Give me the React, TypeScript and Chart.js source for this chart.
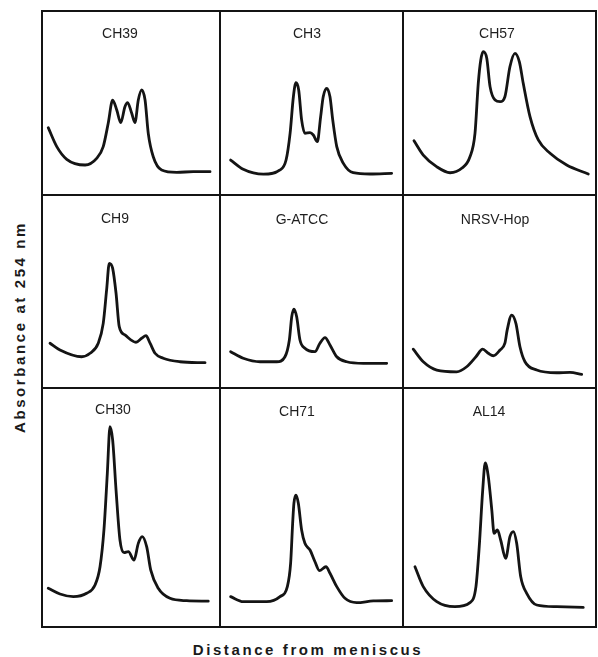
import React, { useEffect, useRef } from "react";
import Chart from "chart.js/auto";

// ---- Data (distance from meniscus in relative units, absorbance in relative units) ----
const panelNames = ["CH39", "CH3", "CH57", "CH9", "G-ATCC", "NRSV-Hop", "CH30", "CH71", "AL14"];

const ch39Distance = [3.5, 8.3, 13.9, 24.2, 30.7, 34.4, 37.2, 39.7, 42.0, 44.2, 46.6, 48.1, 50.4, 52.2, 54.1, 56.0, 57.9, 59.7, 62.5, 67.2, 75.7, 85.0, 94.4];
const ch39Absorbance = [36.6, 26.3, 19.4, 16.3, 19.9, 26.3, 39.0, 51.6, 46.2, 39.3, 48.0, 50.2, 44.4, 39.3, 51.6, 57.1, 51.6, 33.5, 20.8, 13.6, 12.3, 12.7, 12.7];

const ch3Distance = [5.8, 12.7, 23.7, 32.8, 36.1, 38.3, 40.1, 41.5, 43.0, 44.6, 46.4, 49.2, 51.0, 53.2, 55.0, 56.4, 58.3, 60.1, 61.6, 63.8, 67.4, 72.8, 82.0, 93.8];
const ch3Absorbance = [19.0, 14.0, 11.3, 13.6, 19.0, 33.5, 53.4, 61.0, 57.1, 40.8, 33.5, 33.9, 32.6, 29.0, 42.6, 53.4, 58.0, 53.4, 40.8, 26.3, 17.2, 12.1, 11.4, 11.8];

const ch57Distance = [5.7, 10.5, 17.4, 24.4, 30.4, 34.7, 37.3, 39.0, 40.3, 41.6, 43.4, 45.1, 47.7, 50.3, 52.8, 55.4, 58.0, 60.3, 62.3, 65.8, 70.1, 76.2, 84.8, 96.0];
const ch57Absorbance = [29.5, 21.7, 15.4, 12.1, 14.5, 20.8, 33.5, 60.7, 73.4, 77.9, 74.3, 58.9, 51.6, 50.7, 53.4, 69.7, 77.0, 72.4, 60.7, 42.6, 29.9, 22.7, 16.3, 11.4];

const ch9Distance = [4.5, 10.1, 22.3, 27.0, 31.6, 34.4, 36.3, 37.8, 39.7, 41.6, 43.4, 46.6, 52.8, 56.0, 58.4, 60.7, 63.5, 68.1, 77.5, 91.6];
const ch9Absorbance = [23.2, 19.7, 16.2, 18.0, 23.2, 33.5, 50.8, 64.6, 62.0, 49.1, 31.8, 27.5, 23.7, 25.8, 27.1, 23.2, 18.0, 15.4, 13.6, 13.1];

const gAtccDistance = [5.8, 12.7, 21.9, 31.0, 35.5, 37.9, 39.2, 40.4, 41.9, 43.7, 46.4, 51.9, 54.6, 57.4, 60.1, 63.8, 69.2, 78.3, 91.1];
const gAtccAbsorbance = [18.8, 15.4, 13.6, 13.6, 16.2, 24.9, 36.9, 40.9, 36.9, 24.9, 20.6, 18.8, 23.2, 26.1, 22.3, 16.2, 13.6, 12.8, 12.8];

const nrsvHopDistance = [5.3, 10.5, 17.5, 27.8, 33.0, 37.8, 41.3, 44.2, 46.8, 50.3, 52.8, 54.0, 56.3, 58.5, 60.6, 63.2, 69.3, 79.6, 86.5, 92.6];
const nrsvHopAbsorbance = [20.1, 13.6, 9.3, 8.4, 11.0, 16.2, 20.1, 18.0, 16.7, 19.7, 23.2, 30.1, 37.8, 33.5, 21.4, 13.6, 9.3, 7.9, 8.1, 7.1];

const ch30Distance = [3.5, 10.1, 17.6, 25.1, 29.8, 32.6, 34.8, 36.7, 38.2, 39.7, 41.6, 43.8, 46.1, 48.5, 51.7, 54.1, 56.3, 58.8, 61.1, 65.3, 71.9, 81.3, 93.4];
const ch30Absorbance = [16.2, 13.8, 12.7, 14.1, 17.6, 25.2, 40.6, 64.3, 83.8, 78.2, 57.3, 36.4, 31.1, 31.5, 28.0, 35.0, 37.8, 33.6, 23.8, 16.2, 12.0, 11.0, 10.8];

const ch71Distance = [5.8, 12.7, 25.5, 32.8, 36.8, 38.6, 39.7, 40.4, 41.5, 42.8, 44.6, 46.4, 49.2, 51.9, 54.3, 57.9, 60.1, 63.8, 68.3, 74.7, 83.8, 93.8];
const ch71Absorbance = [12.7, 10.6, 10.6, 12.7, 16.9, 26.7, 43.4, 51.8, 55.2, 51.8, 40.6, 35.0, 32.2, 27.3, 23.6, 25.2, 22.5, 16.9, 12.0, 10.2, 10.9, 11.0];

const al14Distance = [6.2, 10.5, 17.5, 26.9, 34.7, 37.8, 39.5, 41.3, 42.6, 44.2, 46.0, 47.2, 48.9, 50.6, 53.2, 55.4, 57.2, 58.9, 61.0, 64.1, 69.3, 79.6, 93.4];
const al14Absorbance = [25.2, 16.9, 10.6, 8.5, 10.2, 16.9, 33.6, 57.3, 68.7, 62.9, 49.0, 39.2, 40.6, 36.4, 28.7, 37.8, 39.9, 35.0, 21.0, 14.1, 9.2, 8.5, 8.2];

const distanceSeries = [ch39Distance, ch3Distance, ch57Distance, ch9Distance, gAtccDistance, nrsvHopDistance, ch30Distance, ch71Distance, al14Distance];
const absorbanceSeries = [ch39Absorbance, ch3Absorbance, ch57Absorbance, ch9Absorbance, gAtccAbsorbance, nrsvHopAbsorbance, ch30Absorbance, ch71Absorbance, al14Absorbance];

const xAxisTitle = "Distance from meniscus";
const yAxisTitle = "Absorbance at 254 nm";

// ---- Layout ----
const colEdges = [42, 220, 403, 596];
const rowEdges = [11, 195, 388, 627];
const labelCenterX = [120, 307, 497, 115, 302, 495, 113, 297, 489];
const labelCenterY = [33, 33, 33, 218, 219, 219, 409, 411, 411];
const INK = "#141414";

function Panel({ index }: { index: number }) {
  const ref = useRef<HTMLCanvasElement | null>(null);
  const col = index % 3;
  const row = Math.floor(index / 3);
  const x0 = colEdges[col], x1 = colEdges[col + 1];
  const y0 = rowEdges[row], y1 = rowEdges[row + 1];
  const w = x1 - x0, h = y1 - y0;

  useEffect(() => {
    if (!ref.current) return;
    const xs = distanceSeries[index];
    const ys = absorbanceSeries[index];
    const chart = new Chart(ref.current, {
      type: "line",
      data: {
        datasets: [
          {
            label: panelNames[index],
            data: xs.map((x, i) => ({ x, y: ys[i] })),
            borderColor: INK,
            borderWidth: 2.8,
            pointRadius: 0,
            fill: false,
            cubicInterpolationMode: "monotone",
            borderCapStyle: "round",
            borderJoinStyle: "round",
          },
        ],
      },
      options: {
        animation: false,
        responsive: false,
        maintainAspectRatio: false,
        layout: { padding: 0 },
        plugins: { legend: { display: false }, tooltip: { enabled: false }, title: { display: false } },
        scales: {
          x: { type: "linear", min: 0, max: 100, display: false },
          y: { type: "linear", min: 0, max: 100, display: false },
        },
      },
    });
    return () => chart.destroy();
  }, [index]);

  return (
    <>
      <div
        style={{
          position: "absolute",
          left: x0 - 1,
          top: y0 - 1,
          width: w + 2,
          height: h + 2,
          boxSizing: "border-box",
          border: `2px solid ${INK}`,
        }}
      />
      <canvas
        ref={ref}
        width={w}
        height={h}
        style={{ position: "absolute", left: x0, top: y0, width: w, height: h }}
      />
      <div
        style={{
          position: "absolute",
          left: labelCenterX[index] - 50,
          top: labelCenterY[index] - 9,
          width: 100,
          height: 18,
          lineHeight: "18px",
          textAlign: "center",
          fontFamily: "'Liberation Sans', Arial, sans-serif",
          fontSize: 14,
          color: "#1e1e1e",
        }}
      >
        {panelNames[index]}
      </div>
    </>
  );
}

export default function App() {
  return (
    <div
      style={{
        position: "fixed",
        left: 0,
        top: 0,
        width: 598,
        height: 657,
        background: "#fff",
        overflow: "hidden",
      }}
    >
      {panelNames.map((_, i) => (
        <Panel key={i} index={i} />
      ))}
      <div
        style={{
          position: "absolute",
          left: 20 - 150,
          top: 327 - 10,
          width: 300,
          height: 20,
          lineHeight: "20px",
          textAlign: "center",
          transform: "rotate(-90deg)",
          fontFamily: "'Liberation Sans', Arial, sans-serif",
          fontWeight: "bold",
          fontSize: 15,
          letterSpacing: "2.6px",
          color: "#1a1a1a",
          whiteSpace: "nowrap",
        }}
      >
        {yAxisTitle}
      </div>
      <div
        style={{
          position: "absolute",
          left: 308 - 200,
          top: 650 - 10,
          width: 400,
          height: 20,
          lineHeight: "20px",
          textAlign: "center",
          fontFamily: "'Liberation Sans', Arial, sans-serif",
          fontWeight: "bold",
          fontSize: 15,
          letterSpacing: "2.6px",
          color: "#1a1a1a",
          whiteSpace: "nowrap",
        }}
      >
        {xAxisTitle}
      </div>
    </div>
  );
}
